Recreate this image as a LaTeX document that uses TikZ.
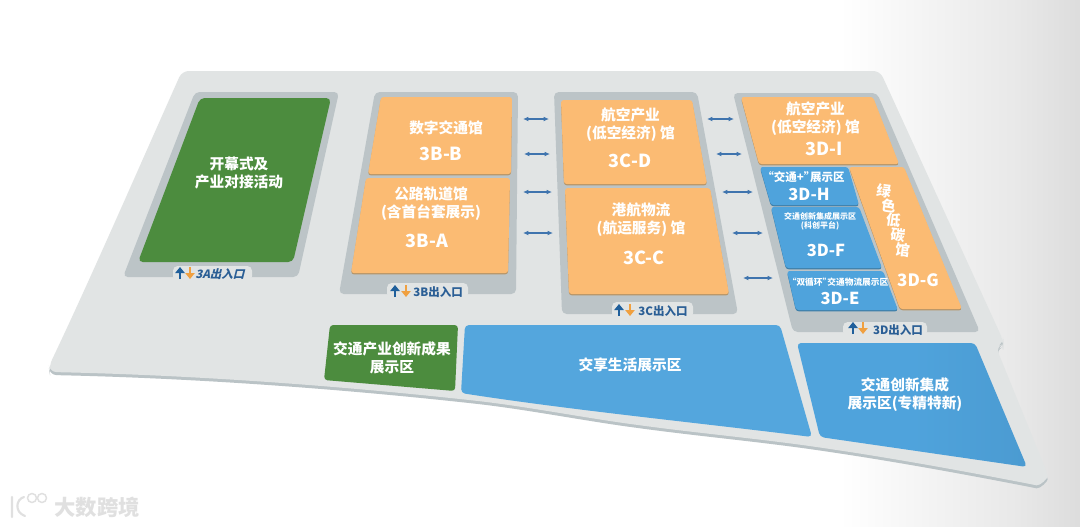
\documentclass[tikz,border=0pt]{standalone}
\usepackage{fontspec}
\setmainfont{Noto Sans CJK SC}
\usetikzlibrary{arrows.meta}
\definecolor{floorc}{HTML}{E1E4E4}
\definecolor{floorsh}{HTML}{BAC3C6}
\definecolor{panelc}{HTML}{BCC4C7}
\definecolor{orangec}{HTML}{FBBB73}
\definecolor{orangesh}{HTML}{B49468}
\definecolor{greenc}{HTML}{4C8C3E}
\definecolor{bluec}{HTML}{4FA3DC}
\definecolor{bluesh}{HTML}{3F7FA8}
\definecolor{linkc}{HTML}{3F74AE}
\definecolor{tabtext}{HTML}{2A5E95}
\definecolor{uparrow}{HTML}{1F5F9B}
\definecolor{downarrow}{HTML}{F0A040}
\pgfdeclarehorizontalshading{bgshade}{100bp}{color(0bp)=(white);color(25bp)=(white);color(62bp)=(black!9);color(85bp)=(black!17);color(100bp)=(black!32)}
\pgfdeclarehorizontalshading{floorshade}{100bp}{color(0bp)=(floorc);color(25bp)=(floorc);color(75bp)=(floorc);color(100bp)=(black!23)}
\pgfdeclarehorizontalshading{bigblue}{100bp}{color(0bp)=(bluec);color(25bp)=(bluec);color(50bp)=(bluec);color(75bp)=(bluec!95!black);color(100bp)=(bluec!88!black)}
\newcommand{\fsz}[2]{\fontsize{\dimexpr#1pt*3/4\relax}{\dimexpr#2pt*3/4\relax}\selectfont\bfseries}
\newcommand{\floorpath}{(400,71) -- (880,71) -- (1003,340) -- (1003,344) -- (996,347) -- (1046,470)
 .. controls (1048,478) and (1040,486) .. (1030,484)
 .. controls (963,471) and (897,459) .. (830,449)
 .. controls (766,439.4) and (702,433.6) .. (638,425)
 .. controls (582,417.4) and (525,406.2) .. (469,400)
 .. controls (330,385) and (190,375) .. (50,372) -- (49,366)
 .. controls (90,280) and (140,165) .. (182,71) -- cycle}
\newcommand{\tile}[3]{\fill[#1,rounded corners=2pt,shift={(0,1.3)}] #3; \fill[#2,rounded corners=2pt] #3;}
\newcommand{\gch}[1]{\smash{\rotatebox[origin=c]{-8}{#1}}}
\tikzset{
  lab/.style={text=white,align=center,inner sep=0pt},
  big/.style={lab,font=\fsz{14.7}{18}},
  code/.style={lab,font=\fsz{18}{18}},
  codes/.style={lab,font=\fsz{16.5}{18}},
  tabt/.style={text=tabtext,inner sep=0pt,font=\fsz{11.5}{12}},
  pan/.style={fill=panelc,rounded corners=3.5pt},
  tabshape/.style={fill=floorc,rounded corners=3.5pt},
  link/.style={linkc,line width=1pt,{Latex[length=4pt,width=3.6pt]}-{Latex[length=4pt,width=3.6pt]}},
  upa/.style={uparrow,line width=1.9pt,-{Triangle[length=4.5pt,width=7pt]}},
  downa/.style={downarrow,line width=1.9pt,-{Triangle[length=4.5pt,width=7pt]}},
}
\begin{document}
\begin{tikzpicture}[x=0.75pt,y=-0.75pt]
\useasboundingbox (0,0) rectangle (1080,526);
\fill[white] (0,0) rectangle (1080,526);
\shade[shading=bgshade] (840,0) rectangle (1080,526);
% floor
\fill[floorsh,rounded corners=5pt,shift={(0,3)}] \floorpath;
\shade[shading=floorshade,rounded corners=5pt] \floorpath;
% panels
\fill[pan] (195,92) -- (339,92) -- (298,277) -- (123,277) -- cycle;
\fill[pan] (375,92) -- (518,92) -- (516,294) -- (339,294) -- cycle;
\fill[pan] (554,92) -- (697,92) -- (738,314) -- (562,314) -- cycle;
\fill[pan] (733,93) -- (877,93) -- (980,332) -- (793,332) -- cycle;
% entrance tabs
\fill[tabshape] (173,266) -- (252,266) -- (252,281) -- (173,281) -- cycle;
\fill[tabshape] (387,283) -- (468,283) -- (468,298) -- (387,298) -- cycle;
\fill[tabshape] (612,302) -- (693,302) -- (693,318) -- (612,318) -- cycle;
\fill[tabshape] (843,322) -- (927,322) -- (927,336) -- (843,336) -- cycle;
% tiles
\fill[greenc,rounded corners=3.5pt] (200,98) -- (331,98) -- (293,262) -- (138,262) -- cycle;
\tile{orangesh}{orangec}{(381,97) -- (512,97) -- (511,174) -- (368,174) -- cycle}
\tile{orangesh}{orangec}{(366,178) -- (510,178) -- (508,273) -- (351,273) -- cycle}
\tile{orangesh}{orangec}{(561,100) -- (692,100) -- (707,184) -- (564,184) -- cycle}
\tile{orangesh}{orangec}{(565,188) -- (710,188) -- (729,294) -- (569,294) -- cycle}
\tile{orangesh}{orangec}{(741,97) -- (873,97) -- (899,164) -- (759,164) -- cycle}
\tile{orangesh}{orangec}{(849,167) -- (904,167) -- (962,309) -- (900,309) -- cycle}
\tile{bluesh}{bluec}{(760,167) -- (848,167) -- (859,205) -- (771,205) -- cycle}
\tile{bluesh}{bluec}{(771,207) -- (859,207) -- (882,268) -- (786,268) -- cycle}
\tile{bluesh}{bluec}{(787,271) -- (883,271) -- (898,310) -- (796,310) -- cycle}
\fill[greenc,rounded corners=2.5pt] (330,325) -- (458,325) -- (455,391) -- (324,380) -- cycle;
\fill[bluec!97!white,rounded corners=3pt] (465,325) -- (780,325) -- (812,437)
  .. controls (700,423) and (570,410) .. (461,393) -- cycle;
\shade[shading=bigblue,rounded corners=3pt] (797,343) -- (975,343) -- (1027,467) -- (820,437) -- cycle;
% connectors
\coordinate (l1a) at (523,119); \coordinate (l1b) at (549,119);
\coordinate (l2a) at (524,154); \coordinate (l2b) at (550,154);
\coordinate (l3a) at (523,192); \coordinate (l3b) at (552,192);
\coordinate (l4a) at (523,233); \coordinate (l4b) at (553,233);
\coordinate (r1a) at (707,119); \coordinate (r1b) at (734,119);
\coordinate (r2a) at (716,154); \coordinate (r2b) at (742,154);
\coordinate (r3a) at (722,192); \coordinate (r3b) at (753,192);
\coordinate (r4a) at (732,233); \coordinate (r4b) at (763,233);
\coordinate (r5a) at (743,278); \coordinate (r5b) at (773,278);
\foreach \p in {l1,l2,l3,l4,r1,r2,r3,r4,r5} {\draw[link] (\p a) -- (\p b);}
% entrance icons
\coordinate (au3a) at (180,279); \coordinate (av3a) at (180,267);
\coordinate (bu3a) at (190,267); \coordinate (bv3a) at (190,279);
\coordinate (au3b) at (395,297); \coordinate (av3b) at (395,285);
\coordinate (bu3b) at (406,285); \coordinate (bv3b) at (406,297);
\coordinate (au3c) at (619,316); \coordinate (av3c) at (619,304);
\coordinate (bu3c) at (630,304); \coordinate (bv3c) at (630,316);
\coordinate (au3d) at (853,334); \coordinate (av3d) at (853,322);
\coordinate (bu3d) at (863,322); \coordinate (bv3d) at (863,334);
\foreach \p in {3a,3b,3c,3d} {\draw[upa] (au\p) -- (av\p); \draw[downa] (bu\p) -- (bv\p);}
\node[tabt,transform shape,xslant=0.25] (t3a) at (221,274) {3A出入口};
\node[tabt] (t3b) at (438,292) {3B出入口};
\node[tabt] (t3c) at (663,311) {3C出入口};
\node[tabt] (t3d) at (898,330) {3D出入口};
% labels
\node[big] (a1) at (239,172.5) {开幕式及\\产业对接活动};
\node[big] (b1) at (446,128) {数字交通馆};
\node[code] (b2) at (441,154) {3B-B};
\node[big] (b3) at (431,204) {公路轨道馆\\(含首台套展示)};
\node[code] (b4) at (427,241) {3B-A};
\node[big] (c1) at (630.5,125) {航空产业\\(低空经济) 馆};
\node[code] (c2) at (630,161) {3C-D};
\node[big] (c3) at (641,219.5) {港航物流\\(航运服务) 馆};
\node[code] (c4) at (644,258) {3C-C};
\node[big] (d1) at (815.5,118.5) {航空产业\\(低空经济) 馆};
\node[code] (d2) at (824,149) {3D-I};
\node[lab,font=\fsz{11.5}{12}] (h1) at (806,177) {\kern-.45em“交通+”\kern-.45em展示区};
\node[codes] (h2) at (809,194) {3D-H};
\node[lab,font=\fsz{8}{9.5}] (f1) at (820,221.5) {交通创新集成展示区\\(科创平台)};
\node[codes] (f2) at (826,250) {3D-F};
\node[lab,font=\fsz{8.7}{9}] (e1) at (840,282) {\kern-.45em“双循环”\kern-.45em交通物流展示区};
\node[codes] (e2) at (840,298) {3D-E};
\node[lab,align=left,font=\fsz{14.5}{14.8},anchor=north west] (g1) at (875.5,196) {%
 \gch{绿}\\\hspace{3.5pt}\gch{色}\\\hspace{7pt}\gch{低}\\\hspace{10.5pt}\gch{碳}\\\hspace{14pt}\gch{馆}};
\node[lab,font=\fsz{17}{18}] (g2) at (918,280) {3D-G};
\node[big] (k1) at (392,358) {交通产业创新成果\\展示区};
\node[big] (k2) at (630,365) {交享生活展示区};
\node[big] (k3) at (905,394.5) {交通创新集成\\展示区(专精特新)};
% watermark
\node[inner sep=0pt,text=black!12,font=\fontsize{16pt}{16pt}\selectfont\bfseries] (wm) at (97,507) {大数跨境};
\draw[black!12,line width=1.6pt,line cap=round] (12,497) -- (12,517) (24,497) .. controls (16,499) and (14,512) .. (25,516);
\draw[black!12,line width=1.1pt] (32,498) circle [radius=4.5] (42,498) circle [radius=4.5];
\end{tikzpicture}
\end{document}
